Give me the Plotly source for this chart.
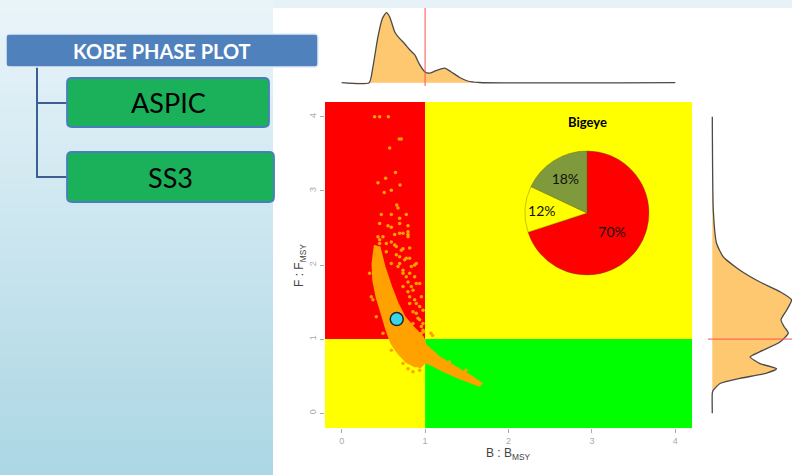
import plotly.graph_objects as go

W, H = 792, 475

# ---------------- data ----------------
x_ticks = [0, 1, 2, 3, 4]
y_ticks = [0, 1, 2, 3, 4]

# dense core of the bootstrap cloud (outline of the orange band)
cloud_b = [0.395, 0.367, 0.375, 0.415, 0.475, 0.535, 0.595, 0.675, 0.775, 0.875, 0.955, 1.00, 1.06, 1.21,
           1.41, 1.65, 1.68, 1.57, 1.37, 1.17, 1.01, 0.975, 0.855, 0.755, 0.675, 0.595, 0.515, 0.455]
cloud_f = [2.27, 2.02, 1.80, 1.57, 1.35, 1.12, 0.94, 0.81, 0.69, 0.63, 0.63, 0.68, 0.66, 0.57,
           0.47, 0.37, 0.40, 0.49, 0.62, 0.76, 0.92, 1.03, 1.17, 1.30, 1.48, 1.71, 1.98, 2.25]

# sparse bootstrap points
scatter_b = [0.395, 0.455, 0.56, 0.69, 0.715, 0.575, 0.645, 0.435, 0.527, 0.70, 0.595, 0.51, 0.66, 0.675,
             0.475, 0.595, 0.775, 0.695, 0.455, 0.555, 0.595, 0.695, 0.795, 0.635, 0.695, 0.795, 0.795,
             0.435, 0.455, 0.595, 0.655, 0.735, 0.535, 0.695, 0.755, 0.815, 0.875, 0.675, 0.735, 0.815,
             0.775, 0.895, 0.835, 0.735, 0.795, 0.875, 0.815, 0.935, 0.895, 0.935, 0.975, 0.855, 0.975,
             0.955, 1.07, 1.09, 0.895, 0.935, 0.695, 0.375,
             0.735, 0.795, 0.635, 0.715, 0.815, 0.655, 0.775, 0.595, 0.695, 0.835, 0.895, 0.735, 0.875,
             0.795, 0.935, 0.855, 0.955, 0.815, 0.895, 0.975, 0.855, 0.915, 0.955, 0.455, 0.535, 0.495,
             0.335, 0.355, 0.415, 0.495, 0.595, 0.735, 0.855, 0.935, 0.795, 1.29, 1.49, 0.985, 0.965]
scatter_f = [4.00, 4.00, 4.00, 3.70, 3.70, 3.58, 3.25, 3.11, 3.17, 3.08, 3.01, 2.98, 2.81, 2.77,
             2.68, 2.68, 2.68, 2.63, 2.56, 2.53, 2.51, 2.56, 2.53, 2.41, 2.43, 2.45, 2.38,
             2.38, 2.29, 2.31, 2.25, 2.22, 2.18, 2.11, 2.07, 2.09, 2.00, 1.98, 1.93, 1.89,
             1.84, 1.75, 1.71, 1.71, 1.64, 1.53, 1.48, 1.44, 1.35, 1.26, 1.21, 1.21, 1.12,
             1.08, 1.08, 1.05, 0.67, 0.63, 0.87, 1.53,
             2.43, 2.41, 2.27, 2.20, 2.23, 2.14, 2.09, 2.02, 2.02, 1.98, 2.02, 1.89, 1.84,
             1.77, 1.75, 1.66, 1.57, 1.57, 1.48, 1.39, 1.37, 1.28, 1.17, 2.34, 2.29, 2.38,
             1.89, 1.57, 1.30, 1.08, 0.85, 0.67, 0.56, 0.58, 0.60, 0.69, 0.58, 1.10, 1.00]

# current status
current_b = [0.66]
current_f = [1.27]

# marginal density of B/Bmsy (top)
topdens_b = [0.0, 0.33, 0.375, 0.435, 0.487, 0.535, 0.575, 0.635, 0.675, 0.755, 0.815, 0.875, 0.935,
             0.995, 1.05, 1.13, 1.235, 1.31, 1.41, 1.51, 1.65, 4.0]
topdens_h = [0, 0, 16, 46, 64, 70, 66, 51, 46, 39, 33, 28, 18,
             11, 9.5, 12, 14.5, 11, 5.5, 1.7, 0.2, 0]

# marginal density of F/Fmsy (right)
rightdens_f = [0.0, 0.27, 0.31, 0.40, 0.47, 0.54, 0.60, 0.67, 0.76, 0.83, 0.96, 1.08, 1.17, 1.26,
               1.39, 1.53, 1.64, 1.77, 1.93, 2.11, 2.29, 2.74, 4.0]
rightdens_w = [0, 0, 1, 7.7, 27.7, 54.3, 64.3, 47.7, 37.7, 47.7, 67.7, 76, 71.7, 68.7,
               74.3, 79.3, 67.7, 47.7, 27.7, 11, 4.3, 1, 0]

# Kobe pie
pie_title = "Bigeye"
pie_labels = ["Overfished & overfishing", "Overfished or overfishing", "Not overfished"]
pie_values = [70, 12, 18]

menu_title = "KOBE PHASE PLOT"
menu_items = ["ASPIC", "SS3"]

# ---------------- helpers ----------------
def px(x):
    return x / W

def py(y):
    return 1 - y / H

RED, YEL, GRN, ORG = "#ff0000", "#ffff00", "#00ff00", "#ffa200"
DENS_FILL = "#fdc870"

fig = go.Figure()

# main plot: cloud + sparse points + current point
fig.add_trace(go.Scatter(x=cloud_b, y=cloud_f, mode="lines", fill="toself", fillcolor=ORG,
                         line=dict(width=1.5, color=ORG),
                         hoverinfo="skip", showlegend=False, xaxis="x", yaxis="y"))
fig.add_trace(go.Scatter(x=scatter_b, y=scatter_f, mode="markers",
                         marker=dict(size=3.5, color=ORG), showlegend=False, xaxis="x", yaxis="y"))
fig.add_trace(go.Scatter(x=current_b, y=current_f, mode="markers",
                         marker=dict(size=13, color="#38d6e8", line=dict(color="#1a2a30", width=1.5)),
                         showlegend=False, xaxis="x", yaxis="y"))

# top density
fig.add_trace(go.Scatter(x=topdens_b, y=topdens_h, mode="lines", fill="tozeroy", fillcolor=DENS_FILL,
                         line=dict(color="#4a4a4a", width=1.3, shape="spline", smoothing=0.5),
                         showlegend=False, xaxis="x2", yaxis="y2"))
# right density
fig.add_trace(go.Scatter(x=rightdens_w, y=rightdens_f, mode="lines", fill="tozerox", fillcolor=DENS_FILL,
                         line=dict(color="#4a4a4a", width=1.3, shape="spline", smoothing=0.5),
                         showlegend=False, xaxis="x3", yaxis="y3"))

# pie
pcx, pcy, pr = 587, 213, 62
fig.add_trace(go.Pie(labels=pie_labels, values=pie_values, sort=False, direction="clockwise", rotation=0,
                     marker=dict(colors=[RED, YEL, "#7f9a3c"], line=dict(color="rgba(90,90,0,0.45)", width=0.8)),
                     textinfo="percent", textposition="inside", insidetextorientation="horizontal",
                     textfont=dict(family="Lato", size=14, color="#111"),
                     domain=dict(x=[px(pcx - pr), px(pcx + pr)], y=[py(pcy + pr), py(pcy - pr)]),
                     showlegend=False, hoverinfo="label+percent"))

# ---------------- layout / axes ----------------
main_x = [px(325), px(692)]
main_y = [py(428), py(102)]
rng = [-0.2, 4.2]
tickfont = dict(family="Liberation Sans", size=9, color="#aaaaaa")

fig.update_layout(
    width=W, height=H, margin=dict(l=0, r=0, t=0, b=0),
    paper_bgcolor="white", plot_bgcolor="rgba(0,0,0,0)",
    xaxis=dict(domain=main_x, range=rng, tickvals=x_ticks, ticks="outside", ticklen=4, tickcolor="#aaaaaa",
               tickfont=tickfont, showgrid=False, zeroline=False, showline=False, anchor="y"),
    yaxis=dict(domain=main_y, range=rng, tickvals=y_ticks, ticks="outside", ticklen=4, tickcolor="#aaaaaa",
               tickfont=tickfont, tickangle=-90, showgrid=False, zeroline=False, showline=False, anchor="x"),
    xaxis2=dict(domain=main_x, range=rng, visible=False, anchor="y2"),
    yaxis2=dict(domain=[py(86), py(8)], range=[-3.3, 74.7], visible=False, anchor="x2"),
    xaxis3=dict(domain=[px(700), 1.0], range=[-12.3, 79.7], visible=False, anchor="y3"),
    yaxis3=dict(domain=main_y, range=rng, visible=False, anchor="x3"),
)

shapes = []
# slide background: left gradient panel
top_c, bot_c = (233, 244, 249), (172, 215, 228)
n = 40
for i in range(n):
    t = i / (n - 1)
    c = tuple(round(top_c[k] + (bot_c[k] - top_c[k]) * t) for k in range(3))
    shapes.append(dict(type="rect", xref="paper", yref="paper", layer="below",
                       x0=0, x1=px(273), y0=py(H * (i + 1) / n + 1), y1=py(H * i / n),
                       fillcolor="rgb(%d,%d,%d)" % c, line=dict(width=0)))
# top strip
shapes.append(dict(type="rect", xref="paper", yref="paper", layer="below", x0=px(273), x1=1,
                   y0=py(8), y1=1, fillcolor="#e6f2f8", line=dict(width=0)))

# quadrants
quads = [(-0.2, 1, 1, 4.2, RED), (1, 4.2, 1, 4.2, YEL), (-0.2, 1, -0.2, 1, YEL), (1, 4.2, -0.2, 1, GRN)]
for x0, x1, y0, y1, c in quads:
    shapes.append(dict(type="rect", xref="x", yref="y", layer="below", x0=x0, x1=x1, y0=y0, y1=y1,
                       fillcolor=c, line=dict(width=0)))

# reference lines on marginal densities
shapes.append(dict(type="line", xref="x2", yref="y2 domain", x0=1, x1=1, y0=0, y1=1,
                   line=dict(color="#ff5050", width=1)))
shapes.append(dict(type="line", xref="paper", yref="y", x0=px(708), x1=1, y0=1, y1=1,
                   line=dict(color="#ff5050", width=1)))


def rrect(x0, y0, x1, y1, r=4):
    rx, ry = r / W, r / H
    X0, X1, Y0, Y1 = px(x0), px(x1), py(y1), py(y0)
    return (f"M {X0+rx},{Y1} L {X1-rx},{Y1} Q {X1},{Y1} {X1},{Y1-ry} L {X1},{Y0+ry} "
            f"Q {X1},{Y0} {X1-rx},{Y0} L {X0+rx},{Y0} Q {X0},{Y0} {X0},{Y0+ry} "
            f"L {X0},{Y1-ry} Q {X0},{Y1} {X0+rx},{Y1} Z")

# connectors
shapes.append(dict(type="path", xref="paper", yref="paper",
                   path=f"M {px(37)},{py(67)} L {px(37)},{py(177)} L {px(67)},{py(177)}",
                   line=dict(color="#3d5f91", width=2)))
shapes.append(dict(type="line", xref="paper", yref="paper", x0=px(37), x1=px(67), y0=py(103), y1=py(103),
                   line=dict(color="#3d5f91", width=2)))
# menu boxes
shapes.append(dict(type="path", xref="paper", yref="paper", path=rrect(6, 34, 318, 67, 3),
                   fillcolor="#4f81bd", line=dict(color="#e2ecf6", width=1.5)))
boxes = [(67, 78, 269, 127), (67, 152, 274, 202)]
for (x0, y0, x1, y1) in boxes:
    shapes.append(dict(type="path", xref="paper", yref="paper", path=rrect(x0, y0, x1, y1, 5),
                       fillcolor="#1bb15a", line=dict(color="#4a7ebb", width=1.8)))

fig.update_layout(shapes=shapes)

ann = []
ann.append(dict(text="<b>" + menu_title + "</b>", x=px(162), y=py(51), xref="paper", yref="paper",
                showarrow=False, font=dict(family="Lato", size=20, color="white"), xanchor="center", yanchor="middle"))
for (x0, y0, x1, y1), label in zip(boxes, menu_items):
    ann.append(dict(text=label, x=px((x0 + x1) / 2), y=py((y0 + y1) / 2), xref="paper", yref="paper",
                    showarrow=False, font=dict(family="Lato", size=27, color="black"),
                    xanchor="center", yanchor="middle"))
ann.append(dict(text="<b>" + pie_title + "</b>", x=px(587), y=py(122), xref="paper", yref="paper",
                showarrow=False, font=dict(family="Lato", size=13, color="black"), xanchor="center", yanchor="middle"))
ann.append(dict(text="B : B<sub>MSY</sub>", x=px(508), y=py(454), xref="paper", yref="paper",
                showarrow=False, font=dict(family="Liberation Sans", size=12, color="#444"),
                xanchor="center", yanchor="middle"))
ann.append(dict(text="F : F<sub>MSY</sub>", x=px(300), y=py(266), xref="paper", yref="paper", textangle=-90,
                showarrow=False, font=dict(family="Liberation Sans", size=12, color="#444"),
                xanchor="center", yanchor="middle"))
fig.update_layout(annotations=ann)

fig.write_html("out.html", config={"displayModeBar": False},
               post_script="document.body.style.margin='0px';")
